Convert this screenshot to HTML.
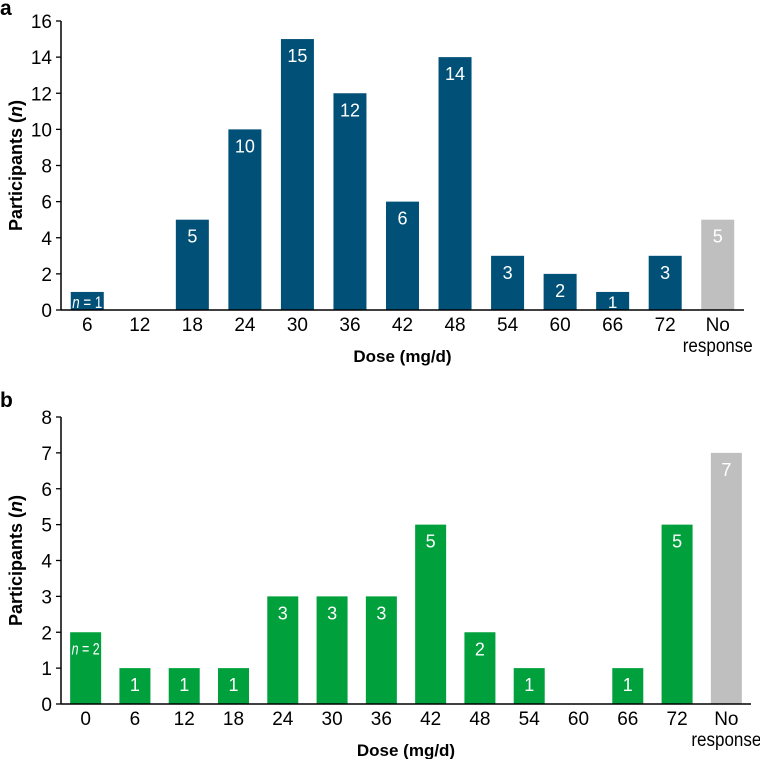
<!DOCTYPE html>
<html><head><meta charset="utf-8"><style>
body{margin:0;background:#fff;font-family:"Liberation Sans",Arial,sans-serif}
svg text{font-family:"Liberation Sans",Arial,sans-serif}
</style></head><body>
<svg id="s" width="760" height="759" xmlns="http://www.w3.org/2000/svg"></svg>
<script>
const catsA=["6","12","18","24","30","36","42","48","54","60","66","72","No response"];
const valsA=[1,0,5,10,15,12,6,14,3,2,1,3,5];
const ticksA=[0,2,4,6,8,10,12,14,16];
const catsB=["0","6","12","18","24","30","36","42","48","54","60","66","72","No response"];
const valsB=[2,1,1,1,3,3,3,5,2,1,0,1,5,7];
const ticksB=[0,1,2,3,4,5,6,7,8];
const NS="http://www.w3.org/2000/svg";
const svg=document.getElementById('s');
function mk(t,a,p){const e=document.createElementNS(NS,t);for(const k in a)e.setAttribute(k,a[k]);(p||svg).appendChild(e);return e;}
function chart(cfg){
  const g=mk('g',{});
  
  
  const x0=61,x1=cfg.xEnd,y0=cfg.y0,yTop=cfg.yTop,max=cfg.max;
  const ys=v=>y0-(v/max)*(y0-yTop);
  const cw=(x1-x0)/cfg.cats.length;
  const xc=i=>x0+cw*(i+0.5);
  const pl=mk('text',{x:0,y:cfg.labelY,'font-size':21,'font-weight':'bold'},g);pl.textContent=cfg.panel;
  
  cfg.ticks.forEach(t=>{
    const l=mk('line',{x1:x0-5,x2:x0,y1:ys(t),y2:ys(t),stroke:'#000','stroke-width':1.3},g);
    
    const tx=mk('text',{x:x0-9,y:ys(t)+7,'font-size':19,'text-anchor':'end'},g);tx.textContent=t;
    
  });
  cfg.cats.forEach((c,i)=>{
    const v=cfg.vals[i];
    const last=i===cfg.cats.length-1;
    if(v>0){
      const h=y0-ys(v);
      const r=mk('rect',{x:xc(i)-cfg.bw/2,y:ys(v),width:cfg.bw,height:h,fill:last?'#bfbfbf':cfg.color},g);
      
      
      const short=h<25;
      const vt=mk('text',{x:xc(i),y:short?y0-2:ys(v)+23,'font-size':short?17:18,fill:'#fff','text-anchor':'middle'},g);
      if(i===0){
        vt.innerHTML='<tspan font-style="italic">n</tspan> = '+v;
        vt.setAttribute('font-size',17);
        vt.setAttribute('textLength',cfg.bw-3);
        vt.setAttribute('lengthAdjust','spacingAndGlyphs');
        vt.setAttribute('y',short?y0-2:ys(v)+22);
      }
      else vt.textContent=v;
      
    }
    if(last){
      const t1=mk('text',{x:xc(i),y:y0+21,'font-size':19,'text-anchor':'middle'},g);t1.textContent='No';
      const t2=mk('text',{x:xc(i),y:y0+42,'font-size':19,'text-anchor':'middle',textLength:70,lengthAdjust:'spacingAndGlyphs'},g);t2.textContent='response';
      
      
    }else{
      const t=mk('text',{x:xc(i),y:y0+21,'font-size':19,'text-anchor':'middle'},g);t.textContent=c;
      
    }
  });
  const ya=mk('line',{x1:x0,x2:x0,y1:yTop,y2:y0,stroke:'#000','stroke-width':1.5},g);
  
  const xa=mk('line',{x1:x0,x2:x1,y1:y0,y2:y0,stroke:'#000','stroke-width':1.5},g);
  
  const xt=mk('text',{x:(x0+x1)/2,y:y0+52,'font-size':17,'font-weight':'bold','text-anchor':'middle'},g);xt.textContent='Dose (mg/d)';
  
  const cy=(yTop+y0)/2;
  const yt=mk('text',{x:0,y:0,'font-size':18,'font-weight':'bold','text-anchor':'middle',transform:`translate(22,${cy}) rotate(-90)`},g);
  yt.innerHTML='Participants (<tspan font-style="italic">n</tspan>)';
  
}
chart({name:'chart-a',panel:'a',labelY:15,cats:catsA,vals:valsA,ticks:ticksA,max:16,y0:310,yTop:21,xEnd:744,bw:33,color:'#005078'});
chart({name:'chart-b',panel:'b',labelY:407,cats:catsB,vals:valsB,ticks:ticksB,max:8,y0:704,yTop:417,xEnd:751,bw:31,color:'#00a03c'});
</script>
</body></html>
